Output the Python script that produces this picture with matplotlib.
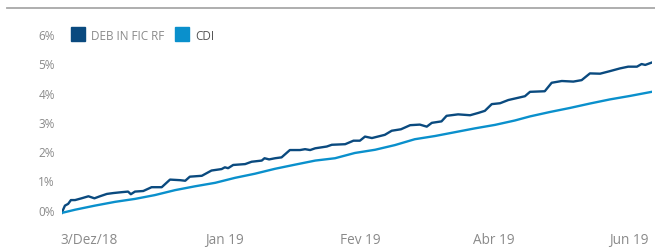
import matplotlib.pyplot as plt
from matplotlib.lines import Line2D

# dias úteis desde 3/Dez/18 e rentabilidade acumulada (%)
deb_x = [0, 0.7, 1.4, 2.0, 2.9, 4.3, 5.8, 7.1, 8.3, 9.8, 11.2, 13.0, 14.4, 15.0, 15.9,
         17.7, 19.5, 21.7, 23.5, 25.7, 26.8, 27.8, 30.4, 32.5, 34.7, 35.4, 36.1, 37.2,
         39.8, 41.2, 43.4, 44.0, 45.0, 46.3, 47.7, 49.5, 51.7, 52.8, 53.9, 55.0, 57.5,
         58.6, 61.5, 63.3, 64.7, 65.8, 67.3, 70.1, 71.6, 73.6, 75.6, 77.7, 79.2, 80.3,
         82.4, 83.5, 86.0, 88.6, 90.4, 91.8, 93.3, 95.1, 96.9, 99.4, 100.5, 101.6, 104.8,
         106.3, 108.5, 111.0, 112.8, 114.6, 116.8, 119.0, 121.1, 122.9, 124.8, 125.8,
         126.6, 128]
deb_y = [-0.11, 0.14, 0.20, 0.33, 0.33, 0.39, 0.46, 0.39, 0.46, 0.54, 0.57, 0.60, 0.62,
         0.53, 0.62, 0.64, 0.77, 0.77, 1.03, 1.01, 0.99, 1.13, 1.16, 1.34, 1.39, 1.45,
         1.42, 1.53, 1.56, 1.64, 1.68, 1.76, 1.72, 1.76, 1.79, 2.04, 2.04, 2.07, 2.04,
         2.10, 2.16, 2.22, 2.24, 2.36, 2.36, 2.50, 2.45, 2.56, 2.70, 2.75, 2.89, 2.91,
         2.84, 2.97, 3.02, 3.21, 3.26, 3.23, 3.31, 3.38, 3.61, 3.64, 3.75, 3.84, 3.88,
         4.03, 4.05, 4.34, 4.40, 4.38, 4.43, 4.66, 4.65, 4.74, 4.83, 4.89, 4.89, 4.98,
         4.95, 5.03]

cdi_x = [0, 2.9, 7.2, 11.6, 15.9, 20.2, 24.6, 28.9, 33.3, 37.6, 41.9, 46.3, 50.6, 55.0,
         59.3, 63.6, 68.0, 72.3, 76.6, 81.0, 85.3, 89.6, 94.0, 98.3, 101.6, 105.9, 110.3,
         114.6, 118.9, 123.3, 128]
cdi_y = [-0.11, 0.0, 0.14, 0.27, 0.37, 0.50, 0.67, 0.80, 0.92, 1.09, 1.23, 1.40, 1.54,
         1.68, 1.76, 1.94, 2.05, 2.21, 2.41, 2.52, 2.65, 2.78, 2.90, 3.05, 3.19, 3.34,
         3.48, 3.63, 3.77, 3.89, 4.03]

xtick_pos = [5.9, 35.4, 64.7, 93.8, 123.1]
xtick_labels = ['3/Dez/18', 'Jan 19', 'Fev 19', 'Abr 19', 'Jun 19']
ytick_pos = [0, 1, 2, 3, 4, 5, 6]

DEB_COLOR = '#0a4a7f'
CDI_COLOR = '#0a90cc'
GRAY = '#8a8a8a'

plt.rcParams['font.family'] = ['Open Sans', 'DejaVu Sans']

fig = plt.figure(figsize=(6.55, 2.53), dpi=100)
fig.patch.set_facecolor('white')
ax = fig.add_axes([61.7 / 655, 0.1324, 590 / 655, 0.884 - 0.1324])

ax.plot(deb_x, deb_y, color=DEB_COLOR, lw=1.7, solid_joinstyle='round')
ax.plot(cdi_x, cdi_y, color=CDI_COLOR, lw=1.7, solid_joinstyle='round')

ax.set_xlim(0, 128)
ax.set_ylim(-0.3, 6.2)
ax.set_yticks(ytick_pos)
ax.set_yticklabels(['%d%%' % v for v in ytick_pos])
ax.set_xticks(xtick_pos)
ax.set_xticklabels(xtick_labels)
ax.tick_params(axis='both', length=0, labelcolor=GRAY)
ax.tick_params(axis='y', pad=5, labelsize=8.5)
ax.tick_params(axis='x', pad=10, labelsize=9.8)
for s in ax.spines.values():
    s.set_visible(False)

# linha cinza no topo
fig.add_artist(Line2D([7 / 655, 1], [1 - 9 / 253, 1 - 9 / 253],
                      color='#a8a8a8', lw=1.3))

handles = [Line2D([], [], ls='none', marker='s', markersize=10.5, color=DEB_COLOR),
           Line2D([], [], ls='none', marker='s', markersize=10.5, color=CDI_COLOR)]
leg = fig.legend(handles, ['DEB IN FIC RF', 'CDI'], loc='center left',
                 bbox_to_anchor=(72 / 655, 1 - 36 / 253), ncol=2, frameon=False,
                 fontsize=8.5, handlelength=1.0, handletextpad=0.6,
                 columnspacing=1.0, borderpad=0, borderaxespad=0)
leg.get_texts()[0].set_color(GRAY)
leg.get_texts()[1].set_color('#555555')

fig.savefig('out.png', dpi=100, facecolor='white')
